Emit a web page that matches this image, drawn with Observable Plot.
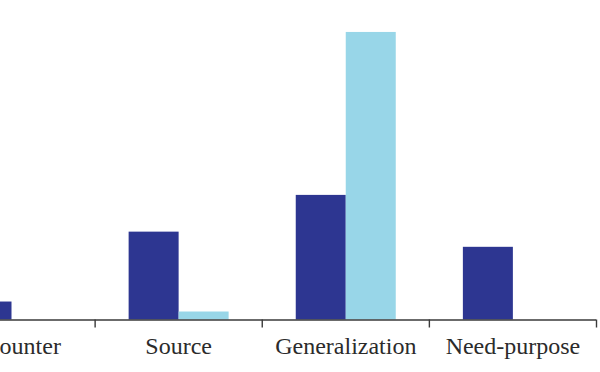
<!DOCTYPE html>
<html>
<head>
<meta charset="utf-8">
<script src="https://cdn.jsdelivr.net/npm/d3@7"></script>
<script src="https://cdn.jsdelivr.net/npm/@observablehq/plot@0.6"></script>
<style>
  html, body { margin: 0; padding: 0; background: #fff; overflow: hidden; }
  #chart { width: 600px; height: 372px; }
</style>
</head>
<body>
<div id="chart"></div>
<script>
// Categories (the first one is mostly cut off at the left edge of the picture)
const categories = ["Encounter", "Source", "Generalization", "Need-purpose"];
// Series values
const seriesDark  = [4.5, 22.0, 31.2, 18.2];
const seriesLight = [0.0, 2.0, 72.0, 0.0];

const darkData  = categories.map((c, i) => ({category: c, value: seriesDark[i]}));
const lightData = categories.map((c, i) => ({category: c, value: seriesLight[i]}));

const xRange = [-72.5, 596];
const bw = (xRange[1] - xRange[0]) / categories.length;

const chart = Plot.plot({
  width: 600,
  height: 372,
  marginLeft: 0,
  marginRight: 4,
  marginTop: 0,
  marginBottom: 52.5,
  style: {fontFamily: "'Liberation Serif', 'DejaVu Serif', serif", fontSize: "24px", background: "#fff", color: "#2b2b2b"},
  x: {type: "band", domain: categories, range: xRange, padding: 0, round: false, axis: null},
  y: {domain: [0, 80], axis: null},
  marks: [
    Plot.barY(darkData, {x: "category", y: "value", fill: "#2d3691", insetLeft: 34, insetRight: bw - 34 - 50}),
    Plot.barY(lightData.filter(d => d.value > 0), {x: "category", y: "value", fill: "#98d6e8", insetLeft: 84, insetRight: bw - 84 - 50}),
    Plot.ruleY([0], {stroke: "#3a3a3a", strokeWidth: 1.6}),
    Plot.axisX({tickSize: 8, fill: "none", stroke: "#3a3a3a", strokeWidth: 1.4, dx: bw / 2, label: null}),
    Plot.axisX({tickSize: 0, tickPadding: 17, fontSize: 24, fill: "#2b2b2b", label: null})
  ]
});
document.getElementById("chart").append(chart);
</script>
</body>
</html>
